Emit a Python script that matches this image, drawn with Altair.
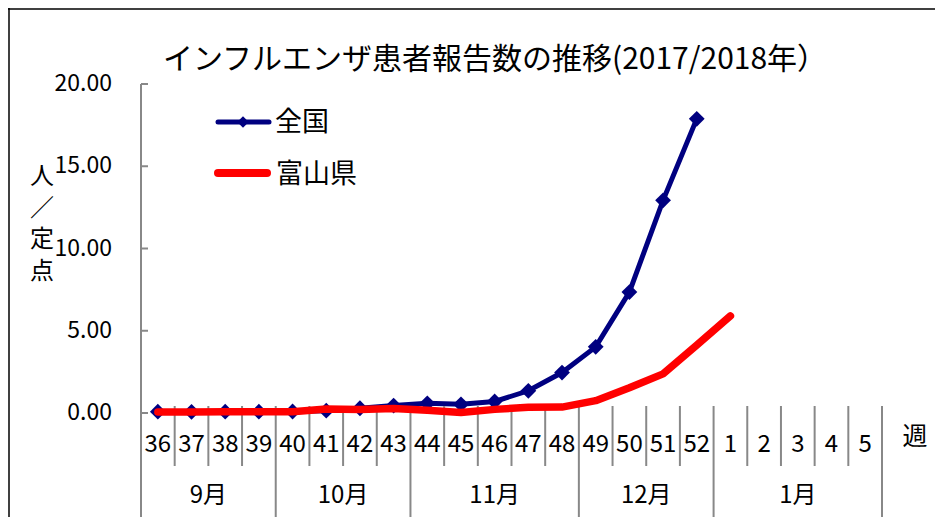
import altair as alt
import pandas as pd

# ---------------- data ----------------
weeks = ["36", "37", "38", "39", "40", "41", "42", "43", "44", "45", "46",
         "47", "48", "49", "50", "51", "52", "1", "2", "3", "4", "5"]
national = [0.08, 0.07, 0.08, 0.08, 0.09, 0.14, 0.29, 0.45, 0.59, 0.53, 0.70,
            1.35, 2.46, 4.02, 7.35, 12.93, 17.88]
toyama = [0.06, 0.06, 0.08, 0.08, 0.08, 0.24, 0.22, 0.28, 0.16, 0.03, 0.22,
          0.35, 0.36, 0.75, 1.53, 2.38, 4.12, 5.90]
months = ["9月", "10月", "11月", "12月", "1月"]
month_spans = [4, 4, 5, 4, 5]
y_ticks = [0, 5, 10, 15, 20]
series = ["全国", "富山県"]
colors = ["#000080", "#FF0000"]
title_text = "インフルエンザ患者報告数の推移(2017/2018年）"
y_title = ["人", "／", "定", "点"]
x_title = "週"

FONT = "Noto Sans CJK JP"
GRAY = "#888888"

# ---------------- tables ----------------
nat_df = pd.DataFrame({"idx": list(range(len(national))), "value": national, "series": series[0]})
toy_df = pd.DataFrame({"idx": list(range(len(toyama))), "value": toyama, "series": series[1]})
week_df = pd.DataFrame({"idx": list(range(len(weeks))), "label": weeks})

month_bounds = []
month_centers = []
start = 0
for span in month_spans:
    month_bounds.append(start - 0.5)
    month_centers.append(start + (span - 1) / 2)
    start += span
month_bounds.append(start - 0.5)
month_df = pd.DataFrame({"center": month_centers, "label": months})
long_df = pd.DataFrame({"pos": month_bounds})
short_df = pd.DataFrame({"pos": [i - 0.5 for i in range(1, len(weeks)) if (i - 0.5) not in month_bounds]})
tick_df = pd.DataFrame({"v": y_ticks, "lbl": [f"{v:.2f}" for v in y_ticks]})

xscale = alt.Scale(domain=[-0.5, len(weeks) - 0.5], nice=False, zero=False)
yscale = alt.Scale(domain=[min(y_ticks), max(y_ticks)], nice=False)

# ---------------- layers ----------------
blue_line = alt.Chart(nat_df).mark_line(color=colors[0], strokeWidth=5).encode(
    x=alt.X("idx:Q", scale=xscale,
            axis=alt.Axis(labels=False, ticks=False, grid=False, title=None,
                          domainColor=GRAY, domainWidth=2)),
    y=alt.Y("value:Q", scale=yscale, axis=None),
)
blue_pts = alt.Chart(nat_df).mark_point(shape="diamond", filled=True, size=250,
                                        color=colors[0], opacity=1).encode(
    x=alt.X("idx:Q", scale=xscale, axis=None),
    y=alt.Y("value:Q", scale=yscale, axis=None),
)
red_line = alt.Chart(toy_df).mark_line(color=colors[1], strokeWidth=7.5, strokeCap="round",
                                       strokeJoin="round").encode(
    x=alt.X("idx:Q", scale=xscale, axis=None),
    y=alt.Y("value:Q", scale=yscale, axis=None),
)

# y axis line (value axis), drawn from the y scale's extent
y_domain = alt.Chart(pd.DataFrame({"lo": [min(y_ticks)], "hi": [max(y_ticks)]})).mark_rule(
    color=GRAY, strokeWidth=2).encode(
    x=alt.value(0),
    y=alt.Y("hi:Q", scale=yscale, axis=None), y2="lo:Q")

short_rules = alt.Chart(short_df).mark_rule(color=GRAY, strokeWidth=2).encode(
    x=alt.X("pos:Q", scale=xscale, axis=None), y=alt.value(322), y2=alt.value(382))
long_rules = alt.Chart(long_df).mark_rule(color=GRAY, strokeWidth=2).encode(
    x=alt.X("pos:Q", scale=xscale, axis=None), y=alt.value(322), y2=alt.value(433))
y_inticks = alt.Chart(tick_df).mark_rule(color=GRAY, strokeWidth=2).encode(
    y=alt.Y("v:Q", scale=yscale, axis=None), x=alt.value(0), x2=alt.value(7))
y_labels = alt.Chart(tick_df).mark_text(fontSize=23, font=FONT, align="right",
                                        baseline="middle", color="#000000").encode(
    y=alt.Y("v:Q", scale=yscale, axis=None), x=alt.value(-29), text="lbl:N")

week_text = alt.Chart(week_df).mark_text(fontSize=24, font=FONT, baseline="middle",
                                         align="center", color="#000000").encode(
    x=alt.X("idx:Q", scale=xscale, axis=None), y=alt.value(361), text="label:N")
month_text = alt.Chart(month_df).mark_text(fontSize=24, font=FONT, baseline="middle",
                                           align="center", color="#000000").encode(
    x=alt.X("center:Q", scale=xscale, axis=None), y=alt.value(412), text="label:N")

title = alt.Chart(pd.DataFrame({"t": [title_text]})).mark_text(
    fontSize=30, font=FONT, align="center", baseline="middle", color="#000000").encode(
    x=alt.value(354), y=alt.value(-24), text="t:N")
ytitle = alt.Chart(pd.DataFrame({"a": [0]})).mark_text(
    text=y_title, fontSize=24, font=FONT, lineHeight=31.7, align="center",
    baseline="middle", color="#000000").encode(x=alt.value(-99), y=alt.value(93))
xtitle = alt.Chart(pd.DataFrame({"t": [x_title]})).mark_text(
    fontSize=25, font=FONT, align="center", baseline="middle", color="#000000").encode(
    x=alt.value(774), y=alt.value(353), text="t:N")

# legend
leg_blue_line = alt.Chart(pd.DataFrame({"a": [0]})).mark_rule(
    color=colors[0], strokeWidth=5, strokeCap="round").encode(
    x=alt.value(77), x2=alt.value(128), y=alt.value(38))
leg_blue_pt = alt.Chart(pd.DataFrame({"a": [0]})).mark_point(
    shape="diamond", filled=True, size=130, color=colors[0], opacity=1).encode(
    x=alt.value(102), y=alt.value(38))
leg_blue_txt = alt.Chart(pd.DataFrame({"t": [series[0]]})).mark_text(
    fontSize=27, font=FONT, align="left", baseline="middle", color="#000000").encode(
    x=alt.value(134), y=alt.value(39), text="t:N")
leg_red_line = alt.Chart(pd.DataFrame({"a": [0]})).mark_rule(
    color=colors[1], strokeWidth=8, strokeCap="round").encode(
    x=alt.value(77), x2=alt.value(126), y=alt.value(89))
leg_red_txt = alt.Chart(pd.DataFrame({"t": [series[1]]})).mark_text(
    fontSize=27, font=FONT, align="left", baseline="middle", color="#000000").encode(
    x=alt.value(135), y=alt.value(91), text="t:N")

# outer frame
frame_left = alt.Chart(pd.DataFrame({"a": [0]})).mark_rule(color="#000000", strokeWidth=1.5).encode(
    x=alt.value(-132), y=alt.value(-76), y2=alt.value(433))
frame_top = alt.Chart(pd.DataFrame({"a": [0]})).mark_rule(color="#000000", strokeWidth=1.5).encode(
    x=alt.value(-133), x2=alt.value(794), y=alt.value(-75))

chart = alt.layer(
    blue_line, y_domain, short_rules, long_rules, y_inticks, y_labels, blue_pts, red_line,
    week_text, month_text, title, ytitle, xtitle,
    leg_blue_line, leg_blue_pt, leg_blue_txt, leg_red_line, leg_red_txt,
    frame_left, frame_top,
).properties(
    width=741, height=329,
    autosize=alt.AutoSizeParams(type="none"),
    padding={"left": 133, "top": 76, "right": 53, "bottom": 104},
    background="#FFFFFF",
).configure(font=FONT).configure_view(stroke=None)

chart.save("out.html", embed_options={"renderer": "svg", "actions": False})
